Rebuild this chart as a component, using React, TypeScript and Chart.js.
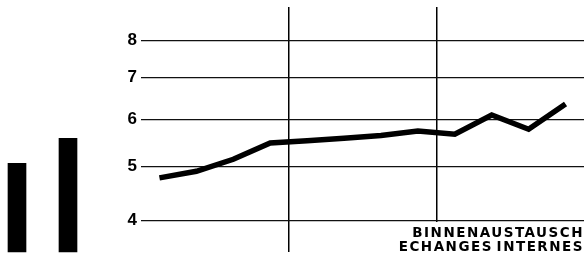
import React, { useEffect, useRef } from "react";
import { Chart, LinearScale, registerables } from "chart.js";

// ---- data ----
const periods = ["1", "2", "3", "4", "5", "6", "7", "8", "9", "10", "11", "12"];
const internalTrade = [4.77, 4.9, 5.14, 5.48, 5.53, 5.58, 5.64, 5.74, 5.67, 6.1, 5.78, 6.36];
const yTicks = [4, 5, 6, 7, 8];
const groupBoundaries = [4, 8];
const leftBarLabels = ["a", "b"];
const leftBarValues = [5.06, 5.58];
const seriesTitle = ["BINNENAUSTAUSCH", "ECHANGES INTERNES"];

const Y_MIN = 3.48;
const Y_MAX = 8.96;
const EXPONENT = 0.3;

class PowerScale extends LinearScale {
  static id = "power";
  static defaults = LinearScale.defaults;
  _f(v: number) {
    return Math.pow(Math.max(v, 0), EXPONENT);
  }
  getPixelForValue(value: number) {
    const a = this._f(this.min);
    const b = this._f(this.max);
    return this.getPixelForDecimal((this._f(value) - a) / (b - a));
  }
  getValueForPixel(pixel: number) {
    const a = this._f(this.min);
    const b = this._f(this.max);
    const d = this.getDecimalForPixel(pixel);
    return Math.pow(a + d * (b - a), 1 / EXPONENT);
  }
}

Chart.register(...registerables, PowerScale);

export default function App() {
  const mainRef = useRef<HTMLCanvasElement | null>(null);
  const barRef = useRef<HTMLCanvasElement | null>(null);

  useEffect(() => {
    const main = new Chart(mainRef.current!, {
      type: "line",
      data: {
        labels: periods,
        datasets: [
          {
            data: internalTrade,
            borderColor: "#000",
            borderWidth: 5.5,
            pointRadius: 0,
            tension: 0,
            fill: false,
          },
        ],
      },
      options: {
        responsive: false,
        animation: false,
        events: [],
        layout: { padding: { left: 0, right: 0, top: 7, bottom: 6 } },
        plugins: { legend: { display: false }, tooltip: { enabled: false } },
        scales: {
          x: {
            type: "category",
            offset: true,
            ticks: { display: false },
            border: { display: false },
            grid: {
              offset: true,
              drawTicks: false,
              lineWidth: 1.5,
              color: (ctx: any) =>
                ctx.index !== undefined && groupBoundaries.includes(ctx.index) ? "#000" : "rgba(0,0,0,0)",
            },
          },
          y: {
            type: "power" as any,
            min: Y_MIN,
            max: Y_MAX,
            border: { display: false },
            grid: { drawTicks: false, color: "#111", lineWidth: 1.2 },
            afterBuildTicks: (s: any) => {
              s.ticks = yTicks.map((v) => ({ value: v }));
            },
            afterFit: (s: any) => {
              s.width = 141;
              s.paddingTop = 0;
              s.paddingBottom = 0;
            },
            ticks: {
              padding: 4,
              color: "#000",
              font: { family: "'Liberation Sans', Arial, sans-serif", size: 17, weight: "bold" },
              callback: (v: any) => String(v),
            },
          },
        },
      },
    } as any);

    const bars = new Chart(barRef.current!, {
      type: "bar",
      data: {
        labels: leftBarLabels,
        datasets: [
          {
            data: leftBarValues,
            base: Y_MIN,
            backgroundColor: "#000",
            barThickness: 18,
            clip: false,
          },
        ],
      },
      options: {
        responsive: false,
        animation: false,
        events: [],
        layout: { padding: { left: 17, right: 22, top: 7, bottom: 6 } },
        plugins: { legend: { display: false }, tooltip: { enabled: false } },
        scales: {
          x: { type: "category", offset: false, display: false },
          y: { type: "power" as any, min: Y_MIN, max: Y_MAX, display: false },
        },
      },
    } as any);

    return () => {
      main.destroy();
      bars.destroy();
    };
  }, []);

  return (
    <div
      style={{
        position: "fixed",
        left: 0,
        top: 0,
        width: 584,
        height: 258,
        background: "#fff",
        overflow: "hidden",
      }}
    >
      <canvas ref={mainRef} width={584} height={258} style={{ position: "absolute", left: 0, top: 0 }} />
      <canvas ref={barRef} width={90} height={258} style={{ position: "absolute", left: 0, top: 0 }} />
      <div
        style={{
          position: "absolute",
          right: 0,
          top: 222,
          paddingTop: 3,
          background: "#fff",
          fontFamily: "'DejaVu Sans', sans-serif",
          fontWeight: "bold",
          fontSize: 13.5,
          lineHeight: "14px",
          letterSpacing: "1.5px",
          wordSpacing: "-2.5px",
          textAlign: "right",
          color: "#000",
          whiteSpace: "nowrap",
        }}
      >
        <div>{seriesTitle[0]}</div>
        <div>{seriesTitle[1]}</div>
      </div>
    </div>
  );
}
